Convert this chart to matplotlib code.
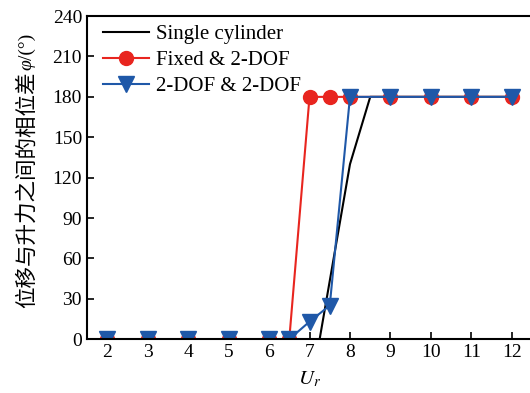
import numpy as np
import matplotlib
matplotlib.use('Agg')
import matplotlib.pyplot as plt

plt.rcParams['font.family'] = ['Liberation Serif', 'Noto Sans CJK SC']
plt.rcParams['mathtext.fontset'] = 'stix'

# single cylinder
x_single = [2, 3, 4, 5, 6, 6.5, 7, 7.25, 8, 8.5, 9, 10, 11, 12]
y_single = [0, 0, 0, 0, 0, 0, 0, 0, 130, 180, 180, 180, 180, 180]

# fixed & 2-DOF
x_fixed = [2, 3, 4, 5, 6, 6.5, 7, 7.5, 8, 9, 10, 11, 12]
y_fixed = [0, 0, 0, 0, 0, 0, 180, 180, 180, 180, 180, 180, 180]

# 2-DOF & 2-DOF
x_dof = [2, 3, 4, 5, 6, 6.5, 7, 7.5, 8, 9, 10, 11, 12]
y_dof = [0, 0, 0, 0, 0, 0, 13, 25, 180, 180, 180, 180, 180]

fig = plt.figure(figsize=(5.3, 3.93), dpi=100)
ax = fig.add_axes([0.164, 0.137, 0.840, 0.822])

ax.plot(x_single, y_single, color='black', lw=1.5, label='Single cylinder')
ax.plot(x_fixed, y_fixed, color='#e8251f', lw=1.5, marker='o', ms=10,
        label='Fixed & 2-DOF')
ax.plot(x_dof, y_dof, color='#1f58a8', lw=1.5, marker='v', ms=11,
        label='2-DOF & 2-DOF')

ax.set_xlim(1.5, 12.5)
ax.set_ylim(0, 240)
ax.set_xticks(range(2, 13))
ax.set_yticks(range(0, 241, 30))
ax.tick_params(direction='in', labelsize=14, length=5, width=1.2)
for s in ax.spines.values():
    s.set_linewidth(1.5)

ax.set_xlabel('$U_r$', fontsize=15, labelpad=6)

ax.legend(loc='upper left', bbox_to_anchor=(0.036, 0.973), frameon=False,
          fontsize=15, handlelength=2.2, handletextpad=0.35,
          labelspacing=0.3, borderaxespad=0, borderpad=0)

# y label in pieces: CJK text, italic phi, then unit
W, H = 530, 393
lx = 27 / W
t1 = fig.text(lx, 1 - 308 / H, '位移与升力之间的相位差', rotation=90,
              ha='center', va='bottom', fontsize=15.5,
              family=['Noto Sans CJK SC'])
fig.canvas.draw()
bb = t1.get_window_extent()
t2 = fig.text(lx, (bb.y1 + 1) / H, 'φ', rotation=90, ha='center',
              va='bottom', fontsize=14, family='Liberation Serif',
              style='italic')
fig.canvas.draw()
bb2 = t2.get_window_extent()
fig.text(lx, bb2.y1 / H, '/(°)', rotation=90, ha='center', va='bottom',
         fontsize=14, family='Liberation Serif')

fig.savefig('out.png', dpi=100)
